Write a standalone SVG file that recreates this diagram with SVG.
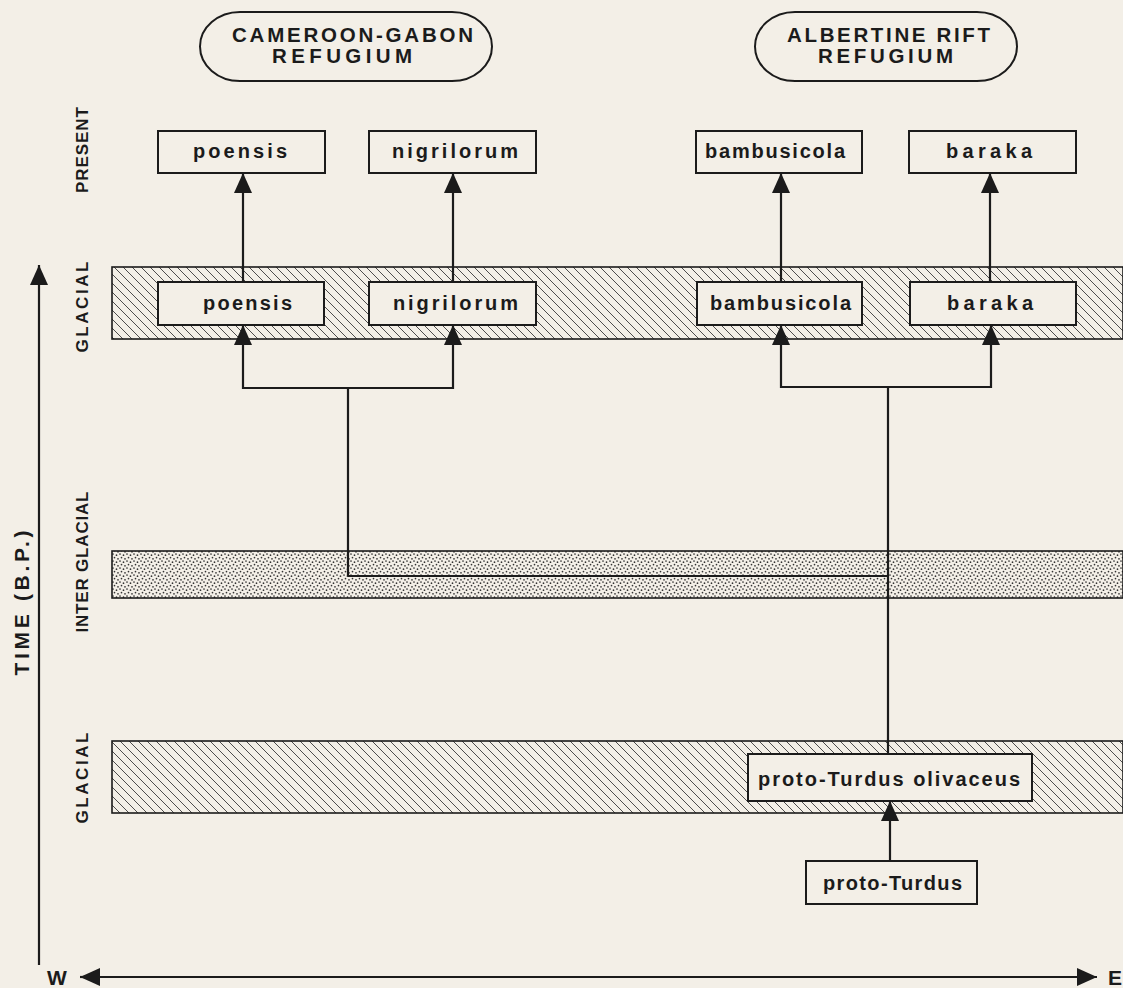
<svg xmlns="http://www.w3.org/2000/svg" width="1123" height="988" viewBox="0 0 1123 988">
<defs>
<style>
.t{font-family:"Liberation Sans",Arial,sans-serif;font-weight:bold;fill:#1b1b1b}
.lbl{font-size:20px}
.side{font-size:17px}
.box{fill:#f3efe7;stroke:#1b1b1b;stroke-width:2}
.band{stroke:#1b1b1b;stroke-width:1.6}
.con{fill:none;stroke:#1b1b1b;stroke-width:2.2}
</style>
<pattern id="hatch" patternUnits="userSpaceOnUse" width="9" height="9">
<rect width="9" height="9" fill="#f3efe7"/>
<path d="M0,0 L9,9 M-1,8 L1,10 M8,-1 L10,1" stroke="#3a3a3a" stroke-width="0.9"/>
</pattern>
<pattern id="dots" patternUnits="userSpaceOnUse" width="7" height="7">
<rect width="7" height="7" fill="#f3efe7"/>
<circle cx="1" cy="1" r="0.85" fill="#333"/>
<circle cx="4.5" cy="2.2" r="0.85" fill="#333"/>
<circle cx="2.5" cy="4.6" r="0.85" fill="#333"/>
<circle cx="6" cy="5.8" r="0.85" fill="#333"/>
</pattern>
<marker id="ah" markerUnits="userSpaceOnUse" viewBox="0 0 20 18" markerWidth="20" markerHeight="18" refX="20" refY="9" orient="auto">
<path d="M0,0 L20,9 L0,18 z" fill="#1b1b1b"/>
</marker>
</defs>
<rect width="1123" height="988" fill="#f3efe7"/>

<g id="bands">
<rect class="band" x="112" y="267" width="1011" height="72" fill="url(#hatch)"/>
<rect class="band" x="112" y="551" width="1011" height="47" fill="url(#dots)"/>
<rect class="band" x="112" y="741" width="1011" height="72" fill="url(#hatch)"/>
</g>

<g id="axes">
<line class="con" x1="39" y1="965" x2="39" y2="265" marker-end="url(#ah)"/>
<line class="con" x1="100" y1="977" x2="80" y2="977" marker-end="url(#ah)"/>
<line class="con" x1="80" y1="977" x2="1097" y2="977" marker-end="url(#ah)"/>
<text class="t" font-size="21" transform="translate(22,603) rotate(-90)" y="7" text-anchor="middle" textLength="145" lengthAdjust="spacing">TIME (B.P.)</text>
<text class="t" font-size="21" x="47" y="985">W</text>
<text class="t" font-size="21" x="1108" y="985">E</text>
<text class="t side" transform="translate(82,150) rotate(-90)" y="6" text-anchor="middle" textLength="86" lengthAdjust="spacing">PRESENT</text>
<text class="t side" transform="translate(82,307) rotate(-90)" y="6" text-anchor="middle" textLength="91" lengthAdjust="spacing">GLACIAL</text>
<text class="t side" transform="translate(82,562) rotate(-90)" y="6" text-anchor="middle" textLength="141" lengthAdjust="spacing">INTER GLACIAL</text>
<text class="t side" transform="translate(82,778) rotate(-90)" y="6" text-anchor="middle" textLength="91" lengthAdjust="spacing">GLACIAL</text>
</g>

<g id="connectors">
<line class="con" x1="243" y1="282" x2="243" y2="173" marker-end="url(#ah)"/>
<line class="con" x1="453" y1="282" x2="453" y2="173" marker-end="url(#ah)"/>
<line class="con" x1="781" y1="282" x2="781" y2="173" marker-end="url(#ah)"/>
<line class="con" x1="990" y1="282" x2="990" y2="173" marker-end="url(#ah)"/>
<path class="con" d="M348,576 L348,388 L243,388 L243,325" marker-end="url(#ah)"/>
<path class="con" d="M348,388 L453,388 L453,325" marker-end="url(#ah)"/>
<path class="con" d="M888,754 L888,387 L781,387 L781,325" marker-end="url(#ah)"/>
<path class="con" d="M888,387 L991,387 L991,325" marker-end="url(#ah)"/>
<line class="con" x1="348" y1="576" x2="888" y2="576"/>
<line class="con" x1="890" y1="861" x2="890" y2="801" marker-end="url(#ah)"/>
</g>

<g id="refugium-cameroon-gabon">
<rect x="200" y="12" width="292" height="69" rx="40" ry="34.5" fill="none" stroke="#1b1b1b" stroke-width="2"/>
<text class="t" font-size="20.5" x="232" y="42" textLength="241" lengthAdjust="spacing">CAMEROON-GABON</text>
<text class="t" font-size="20.5" x="272" y="63" textLength="140" lengthAdjust="spacing">REFUGIUM</text>
</g>
<g id="refugium-albertine-rift">
<rect x="755" y="12" width="262" height="69" rx="40" ry="34.5" fill="none" stroke="#1b1b1b" stroke-width="2"/>
<text class="t" font-size="20.5" x="787" y="42" textLength="203" lengthAdjust="spacing">ALBERTINE RIFT</text>
<text class="t" font-size="20.5" x="818" y="63" textLength="135" lengthAdjust="spacing">REFUGIUM</text>
</g>

<g id="poensis-present"><rect class="box" x="158" y="131" width="167" height="42"/><text class="t lbl" x="193" y="158" textLength="94" lengthAdjust="spacing">poensis</text></g>
<g id="nigrilorum-present"><rect class="box" x="369" y="131" width="167" height="42"/><text class="t lbl" x="392" y="158" textLength="126" lengthAdjust="spacing">nigrilorum</text></g>
<g id="bambusicola-present"><rect class="box" x="696" y="131" width="166" height="42"/><text class="t lbl" x="705" y="158" textLength="140" lengthAdjust="spacing">bambusicola</text></g>
<g id="baraka-present"><rect class="box" x="909" y="131" width="167" height="42"/><text class="t lbl" x="946" y="158" textLength="86" lengthAdjust="spacing">baraka</text></g>

<g id="poensis-glacial"><rect class="box" x="158" y="282" width="166" height="43"/><text class="t lbl" x="203" y="310" textLength="89" lengthAdjust="spacing">poensis</text></g>
<g id="nigrilorum-glacial"><rect class="box" x="369" y="282" width="167" height="43"/><text class="t lbl" x="393" y="310" textLength="125" lengthAdjust="spacing">nigrilorum</text></g>
<g id="bambusicola-glacial"><rect class="box" x="697" y="282" width="165" height="43"/><text class="t lbl" x="710" y="310" textLength="141" lengthAdjust="spacing">bambusicola</text></g>
<g id="baraka-glacial"><rect class="box" x="910" y="282" width="166" height="43"/><text class="t lbl" x="947" y="310" textLength="86" lengthAdjust="spacing">baraka</text></g>

<g id="proto-turdus-olivaceus"><rect class="box" x="748" y="754" width="284" height="47"/><text class="t lbl" x="758" y="786" textLength="262" lengthAdjust="spacing">proto-Turdus olivaceus</text></g>
<g id="proto-turdus"><rect class="box" x="806" y="861" width="171" height="43"/><text class="t lbl" x="823" y="890" textLength="139" lengthAdjust="spacing">proto-Turdus</text></g>
</svg>
